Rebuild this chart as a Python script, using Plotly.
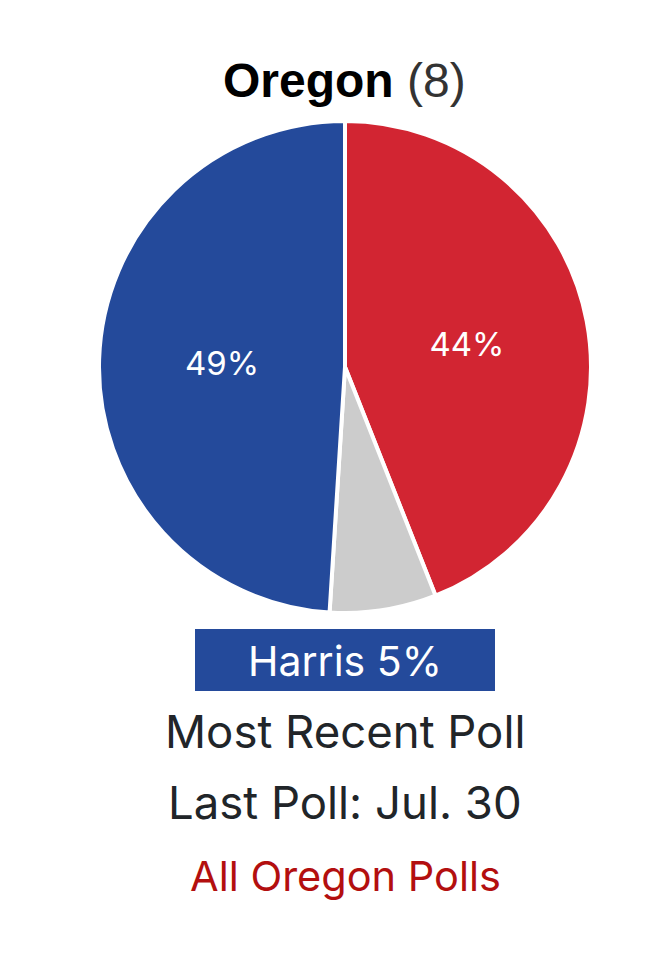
import plotly.graph_objects as go

candidates = ["Trump", "Other", "Harris"]
shares = [44, 7, 49]
slice_labels = ["44%", "", "49%"]
colors = ["#d22532", "#cccccc", "#244a9b"]

state = "Oregon"
electoral_votes = 8
leader_text = "Harris 5%"
subtitle = "Most Recent Poll"
last_poll = "Last Poll: Jul. 30"
link_text = "All Oregon Polls"

# page body has an 8px default margin; figure fits inside it
PAD = 8
W, H = 667 - 2 * PAD, 969 - 2 * PAD


def px(x):
    return (x - PAD) / W


def py(y):
    return 1 - (y - PAD) / H


fig = go.Figure(go.Pie(
    labels=candidates,
    values=shares,
    text=slice_labels,
    texttemplate="%{text}",
    textposition="inside",
    insidetextorientation="horizontal",
    textfont=dict(family="Inter", size=33, color="white"),
    marker=dict(colors=colors, line=dict(color="white", width=4)),
    sort=False,
    direction="clockwise",
    rotation=0,
    showlegend=False,
    hoverinfo="label+percent",
    domain=dict(x=[px(345 - 246), px(345 + 246)],
                y=[py(613), py(121)]),
))

fig.add_annotation(
    x=px(344), y=py(80), xref="paper", yref="paper",
    text=f"<b>{state}</b> <span style='color:#333333'>({electoral_votes})</span>",
    showarrow=False, font=dict(family="Liberation Sans", size=48, color="#000000"),
    xanchor="center", yanchor="middle",
)

fig.add_shape(type="rect", xref="paper", yref="paper",
              x0=px(195), x1=px(495), y0=py(691), y1=py(629),
              fillcolor="#244a9b", line=dict(width=0), layer="above")

fig.add_annotation(
    x=px(345), y=py(661), xref="paper", yref="paper",
    text=leader_text, showarrow=False,
    font=dict(family="Inter", size=41, color="white"),
    xanchor="center", yanchor="middle",
)

for txt, yc, col, sz in [(subtitle, 731, "#212529", 45.5),
                         (last_poll, 802, "#212529", 45.5),
                         (link_text, 876, "#b30f0f", 41.5)]:
    fig.add_annotation(
        x=px(345), y=py(yc), xref="paper", yref="paper",
        text=txt, showarrow=False,
        font=dict(family="Inter", size=sz, color=col),
        xanchor="center", yanchor="middle",
    )

fig.update_layout(
    width=W, height=H,
    margin=dict(l=0, r=0, t=0, b=0),
    paper_bgcolor="white", plot_bgcolor="white",
)

fig.write_html("out.html")
